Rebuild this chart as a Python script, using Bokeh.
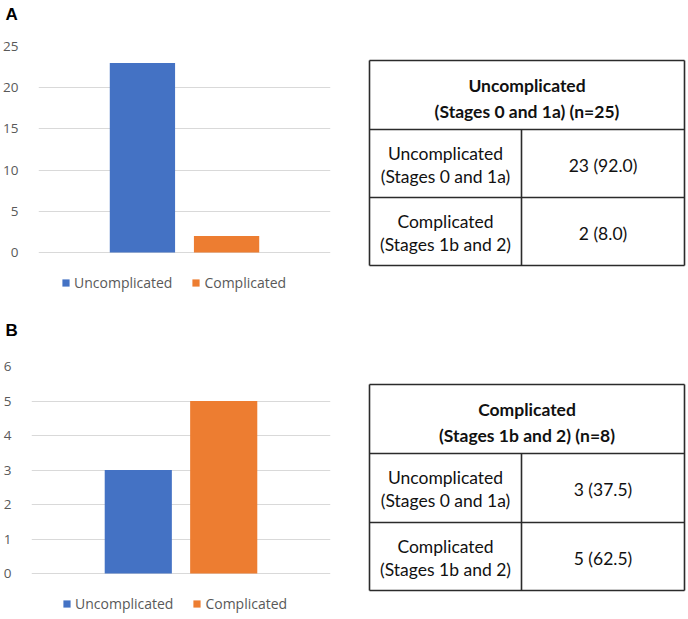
from bokeh.plotting import figure
from bokeh.models import (Range1d, FactorRange, FixedTicker, Legend, LegendItem,
                          ColumnDataSource)
from bokeh.layouts import column, row
from bokeh.embed import file_html
from bokeh.resources import INLINE
from bokeh.core.properties import value

# ---------------- data ----------------
categories = ["Uncomplicated", "Complicated"]
colors = ["#4472C4", "#ED7D31"]
counts_a = [23, 2]
counts_b = [3, 5]
pct_a = [92.0, 8.0]
pct_b = [37.5, 62.5]
ticks_a = [0, 5, 10, 15, 20, 25]
ticks_b = [0, 1, 2, 3, 4, 5, 6]
row_labels = [["Uncomplicated", "(Stages 0 and 1a)"],
              ["Complicated", "(Stages 1b and 2)"]]
header_a = ["Uncomplicated", "(Stages 0 and 1a) (n=25)"]
header_b = ["Complicated", "(Stages 1b and 2) (n=8)"]
panel_letters = ["A", "B"]

CHART_FONT = "Open Sans"
TABLE_FONT = "Lato"
GRAY = "#595959"
GRID = "#d9d9d9"
TOTAL_W = 686


def letter_strip(letter, height, mid_y):
    s = figure(width=TOTAL_W, height=height, x_range=Range1d(0, TOTAL_W),
               y_range=Range1d(height, 0), min_border=0,
               output_backend="svg", toolbar_location=None)
    s.axis.visible = False
    s.grid.visible = False
    s.outline_line_color = None
    s.text(x=[5], y=[mid_y], text=[letter], text_font=value("Liberation Sans"),
           text_font_size="17px", text_font_style="bold", text_color="#000000",
           text_baseline="middle", text_align="left")
    return s


def bar_chart(counts, ticks, height, top, left, below, bar_w, pad,
              legend_x, legend_y):
    src = ColumnDataSource(dict(cat=categories, count=counts, color=colors))
    # frame reaches the bottom of the figure; the space under the zero line
    # holds the legend
    inner = height - top - below
    y_start = -ticks[-1] * below / inner
    p = figure(width=360, height=height,
               x_range=FactorRange(factors=categories, range_padding=pad,
                                   range_padding_units="percent"),
               y_range=Range1d(y_start, ticks[-1]),
               min_border_top=top, min_border_left=left, min_border_right=30,
               min_border_bottom=0, output_backend="svg",
               toolbar_location=None)
    r = p.vbar(x="cat", top="count", bottom=0, width=bar_w, fill_color="color",
               line_color=None, source=src)
    p.outline_line_color = None
    p.background_fill_color = "white"
    p.border_fill_color = "white"

    tk = FixedTicker(ticks=ticks)
    p.yaxis.ticker = tk
    p.ygrid.ticker = tk
    p.ygrid.grid_line_color = GRID
    p.ygrid.grid_line_width = 1
    p.xgrid.visible = False
    p.xaxis.visible = False
    p.yaxis.axis_line_color = None
    p.yaxis.major_tick_line_color = None
    p.yaxis.minor_tick_line_color = None
    p.yaxis.major_label_text_font = CHART_FONT
    p.yaxis.major_label_text_font_size = "13.5px"
    p.yaxis.major_label_text_color = GRAY
    p.yaxis.major_label_standoff = 14

    legend = Legend(items=[LegendItem(label=categories[i], renderers=[r], index=i)
                           for i in range(len(categories))],
                    orientation="horizontal", location=(legend_x, legend_y),
                    margin=0, padding=0, spacing=19, label_standoff=4,
                    glyph_width=9, glyph_height=9, label_height=14,
                    label_text_font=CHART_FONT, label_text_font_size="14px",
                    label_text_color=GRAY, border_line_color=None,
                    background_fill_alpha=0)
    p.add_layout(legend)
    return p


def table_fig(height, frame_top, top, heights, header, counts, pcts):
    W = TOTAL_W - 360
    t = figure(width=W, height=height, x_range=Range1d(0, W),
               y_range=Range1d(height, frame_top), min_border_top=frame_top,
               min_border_bottom=0, min_border_left=0, min_border_right=0,
               output_backend="svg", toolbar_location=None)
    t.axis.visible = False
    t.grid.visible = False
    t.outline_line_color = None
    left, mid, right = 9, 161, 324
    edges = [top]
    for h in heights:
        edges.append(edges[-1] + h)
    lc = "#2b2b2b"
    lw = 1.6
    t.segment(x0=[left] * 4, y0=edges, x1=[right] * 4, y1=edges,
              line_color=lc, line_width=lw)
    t.segment(x0=[left, right, mid], y0=[edges[0], edges[0], edges[1]],
              x1=[left, right, mid], y1=[edges[3]] * 3,
              line_color=lc, line_width=lw)
    fs = "17.5px"
    cx = (left + right) / 2
    t.text(x=[cx, cx], y=[edges[0] + 24.5, edges[0] + 51], text=header,
           text_font=value(TABLE_FONT), text_font_size=fs,
           text_font_style="bold", text_align="center", text_baseline="middle",
           text_color="#111111")
    lx = (left + mid) / 2
    vx = (mid + right) / 2
    xs, ys, txt = [], [], []
    vxs, vys, vtxt = [], [], []
    for i in range(2):
        rt = edges[i + 1]
        xs += [lx, lx]
        ys += [rt + 23.5, rt + 47]
        txt += row_labels[i]
        vxs.append(vx)
        vys.append(rt + 36)
        vtxt.append(f"{counts[i]} ({pcts[i]:.1f})")
    t.text(x=xs, y=ys, text=txt, text_font=value(TABLE_FONT),
           text_font_size=fs, text_align="center", text_baseline="middle",
           text_color="#111111")
    t.text(x=vxs, y=vys, text=vtxt, text_font=value(TABLE_FONT),
           text_font_size=fs, text_align="center", text_baseline="middle",
           text_color="#111111")
    return t


# panel A: 30px letter strip + 278px row
strip_a = letter_strip(panel_letters[0], 30, 14)
chart_a = bar_chart(counts_a, ticks_a, 278, 16, 35, 56, 0.776, 0.735, 23, 16)
table_a = table_fig(278, 16, 30, [69, 68, 68], header_a, counts_a, pct_a)

# panel B: 36px letter strip + 272px row
strip_b = letter_strip(panel_letters[1], 36, 21.5)
chart_b = bar_chart(counts_b, ticks_b, 272, 22, 27, 43, 0.786, 0.75, 31, 3)
table_b = table_fig(272, 22, 40, [69, 69, 68], header_b, counts_b, pct_b)

layout = column(strip_a, row(chart_a, table_a), strip_b, row(chart_b, table_b))
open("out.html", "w").write(file_html(layout, INLINE))
